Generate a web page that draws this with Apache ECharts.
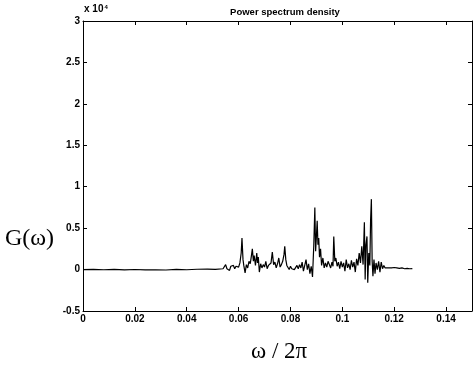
<!DOCTYPE html>
<html>
<head>
<meta charset="utf-8">
<script src="https://cdn.jsdelivr.net/npm/echarts@6/dist/echarts.min.js"></script>
<style>
  html, body { margin: 0; padding: 0; background: #fff; }
  #chart { width: 473px; height: 366px; }
</style>
</head>
<body>
<div id="chart"></div>
<script>
// frequency (omega / 2pi) and PSD values (in units of 10^4)
const omega = [
  0, 0.004, 0.008, 0.012, 0.016, 0.020, 0.024, 0.028, 0.032, 0.036, 0.040, 0.044, 0.048, 0.051,
  0.0540, 0.0545, 0.0550, 0.0555, 0.0560, 0.0565, 0.0570, 0.0575, 0.0580, 0.0585, 0.0590, 0.0595,
  0.0600, 0.0605, 0.0610, 0.0613, 0.0617, 0.0620, 0.0625, 0.0630, 0.0635, 0.0640, 0.0645, 0.0650,
  0.0653, 0.0657, 0.0660, 0.0665, 0.0670, 0.0673, 0.0676, 0.0680, 0.0685, 0.0690, 0.0695, 0.0700,
  0.0705, 0.0710, 0.0715, 0.0720, 0.0725, 0.0730, 0.0735, 0.0740, 0.0745, 0.0750, 0.0755, 0.0760,
  0.0765, 0.0770, 0.0775, 0.0778, 0.0782, 0.0786, 0.0790, 0.0795, 0.0800, 0.0805, 0.0810, 0.0815,
  0.0820, 0.0825, 0.0830, 0.0835, 0.0840, 0.0845, 0.0850, 0.0855, 0.0860, 0.0865, 0.0870, 0.0875,
  0.0880, 0.0885, 0.0890, 0.0894, 0.0897, 0.0900, 0.0903, 0.0906, 0.0909, 0.0912, 0.0916, 0.0920,
  0.0925, 0.0930, 0.0935, 0.0940, 0.0945, 0.0950, 0.0955, 0.0960, 0.0964, 0.0967, 0.0971, 0.0975,
  0.0980, 0.0985, 0.0990, 0.0995, 0.1000, 0.1005, 0.1010, 0.1015, 0.1020, 0.1025, 0.1030, 0.1035,
  0.1040, 0.1045, 0.1050, 0.1055, 0.1060, 0.1065, 0.1070, 0.1075, 0.1080, 0.1085, 0.1088, 0.1091,
  0.1095, 0.1098, 0.1102, 0.1106, 0.1109, 0.1112, 0.1115, 0.1118, 0.1122, 0.1126, 0.1130, 0.1135,
  0.1140, 0.1145, 0.1150, 0.1155, 0.1160, 0.1165, 0.1170, 0.1175, 0.1180,
  0.119, 0.120, 0.121, 0.122, 0.123, 0.124, 0.125, 0.126, 0.127
]
const G = [
  0.00, 0.003, -0.002, 0.002, -0.003, 0.001, -0.004, -0.002, -0.005, 0.002, -0.002, 0.004, 0.006, 0.003,
  0.01, 0.00, 0.06, 0.01, 0.03, -0.01, 0.04, 0.02, 0.05, 0.01, 0.04, 0.06,
  0.03, 0.08, 0.20, 0.38, 0.12, 0.05, -0.04, 0.06, 0.02, 0.10, 0.07, 0.18,
  0.25, 0.10, 0.17, 0.05, 0.20, 0.08, 0.15, -0.03, 0.07, 0.02, 0.06, 0.03,
  0.10, 0.01, 0.05, 0.04, 0.08, 0.21, 0.06, 0.09, 0.02, 0.07, 0.14, 0.03,
  0.06, 0.10, 0.18, 0.28, 0.12, 0.05, 0.03, 0.00, 0.04, 0.01, 0.03, 0.00,
  0.02, 0.05, 0.01, 0.06, 0.02, 0.09, -0.02, 0.05, 0.12, 0.00, 0.07, -0.05,
  0.04, -0.09, 0.30, 0.75, 0.22, 0.40, 0.59, 0.30, 0.38, 0.15, 0.25, 0.05,
  0.14, 0.02, 0.08, 0.03, 0.10, 0.06, 0.02, 0.09, 0.04, 0.40, 0.10, 0.14,
  0.04, 0.09, 0.01, 0.10, 0.03, 0.08, -0.02, 0.12, 0.02, 0.07, 0.00, 0.11,
  0.03, 0.09, -0.03, 0.13, 0.05, 0.20, 0.08, 0.28, 0.06, 0.57, -0.12, 0.30,
  0.40, -0.16, 0.20, 0.05, 0.60, 0.85, 0.10, -0.08, 0.12, -0.05, 0.08, 0.00,
  0.10, -0.03, 0.09, 0.01, 0.05, 0.02, 0.04, 0.02, 0.03,
  0.02, 0.025, 0.02, 0.015, 0.02, 0.01, 0.015, 0.01, 0.012
]
const xTicks = [0, 0.02, 0.04, 0.06, 0.08, 0.1, 0.12, 0.14]
const yTicks = [-0.5, 0, 0.5, 1, 1.5, 2, 2.5, 3]

const chart = echarts.init(document.getElementById('chart'))
const labelFont = { color: '#000', fontSize: 10, fontWeight: 'bold', fontFamily: 'Liberation Sans' }
const tickStyle = { show: true, inside: true, length: 4, lineStyle: { color: '#000' } }
const axisLine = { onZero: false, lineStyle: { color: '#000', width: 1 } }

chart.setOption({
  animation: false,
  title: {
    text: 'Power spectrum density',
    left: 280, top: 2, textAlign: 'center',
    textStyle: { fontSize: 9.5, fontWeight: 'bold', fontFamily: 'Liberation Sans', color: '#000' }
  },
  grid: { left: 83, right: 1, top: 21, bottom: 55 },
  xAxis: [
    {
      type: 'value', min: 0, max: 0.15, interval: 0.02,
      axisLine: axisLine,
      axisTick: tickStyle,
      axisLabel: Object.assign({ margin: 3, showMaxLabel: false,
        formatter: v => xTicks.indexOf(+v.toFixed(2)) >= 0 ? String(+v.toFixed(2)) : '' }, labelFont),
      splitLine: { show: false }
    },
    {
      type: 'value', position: 'top', min: 0, max: 0.15, interval: 0.02,
      axisLine: axisLine,
      axisTick: tickStyle,
      axisLabel: { show: false },
      splitLine: { show: false }
    }
  ],
  yAxis: [
    {
      type: 'value', min: -0.5, max: 3, interval: 0.5,
      axisLine: axisLine,
      axisTick: tickStyle,
      axisLabel: Object.assign({ margin: 3,
        formatter: v => yTicks.indexOf(v) >= 0 ? String(v) : '' }, labelFont),
      splitLine: { show: false }
    },
    {
      type: 'value', position: 'right', min: -0.5, max: 3, interval: 0.5,
      axisLine: axisLine,
      axisTick: tickStyle,
      axisLabel: { show: false },
      splitLine: { show: false }
    }
  ],
  graphic: [
    {
      type: 'text', left: 84, top: 4,
      style: {
        text: '{a|x 10}{b|4}',
        rich: {
          a: { fontSize: 10, fontWeight: 'bold', fontFamily: 'Liberation Sans', fill: '#000' },
          b: { fontSize: 6, fontWeight: 'bold', fontFamily: 'Liberation Sans', fill: '#000', verticalAlign: 'top', padding: [0, 0, 5, 1] }
        }
      }
    },
    {
      type: 'text', left: 5, top: 227,
      style: { text: 'G(ω)', fontSize: 24, fontFamily: 'Liberation Serif', fill: '#000' }
    },
    {
      type: 'text', left: 251, top: 340,
      style: { text: 'ω / 2π', fontSize: 23, fontFamily: 'Liberation Serif', fill: '#000' }
    }
  ],
  series: [
    {
      type: 'line',
      data: omega.map((w, i) => [w, G[i]]),
      showSymbol: false,
      lineStyle: { color: '#000', width: 1.2 }
    }
  ]
})
</script>
</body>
</html>
